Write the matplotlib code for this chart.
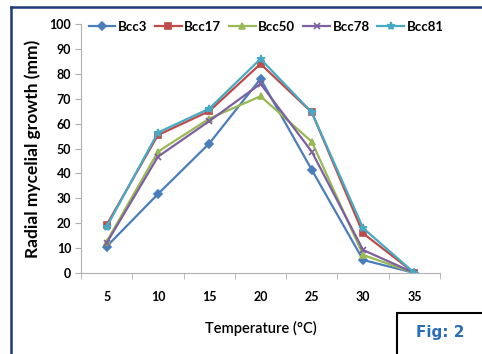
import matplotlib
matplotlib.use("Agg")
import matplotlib.pyplot as plt
from matplotlib.patches import Rectangle
from matplotlib.lines import Line2D

temps = ["5", "10", "15", "20", "25", "30", "35"]
bcc3 = [10.6, 31.7, 52, 78, 41.4, 5.2, 0]
bcc17 = [19.3, 55.4, 65, 84, 64.5, 15.9, 0]
bcc50 = [12.6, 48.7, 62, 71, 52.7, 7.2, 0]
bcc78 = [12.0, 46.7, 61, 76, 48.7, 9.2, 0]
bcc81 = [18.5, 56.4, 66, 86, 64.5, 18.0, 0]
yticks = [0, 10, 20, 30, 40, 50, 60, 70, 80, 90, 100]

plt.rcParams['font.family'] = ['Lato', 'DejaVu Sans']

fig = plt.figure(figsize=(4.82, 3.54), dpi=100)
ax = fig.add_axes([0.168, 0.229, 0.745, 0.703])

x = list(range(len(temps)))
series = [
    ("Bcc3", bcc3, "#4a7ebb", "D", 4),
    ("Bcc17", bcc17, "#be4b48", "s", 5),
    ("Bcc50", bcc50, "#98b954", "^", 5),
    ("Bcc78", bcc78, "#7d60a0", "x", 5),
    ("Bcc81", bcc81, "#46aac5", "*", 6),
]
for name, vals, col, mk, ms in series:
    ax.plot(x, vals, color=col, marker=mk, markersize=ms, linewidth=1.6,
            markeredgewidth=1.2, label=name)

ax.set_xlim(-0.5, len(temps) - 0.5)
ax.set_ylim(0, 100)
ax.set_xticks(x)
ax.set_xticklabels(temps, fontsize=9, fontweight='bold')
ax.set_xticks([i - 0.5 for i in range(len(temps) + 1)], minor=True)
ax.tick_params(axis='x', which='major', length=0, pad=13)
ax.tick_params(axis='x', which='minor', length=4, color='#b0b0b0')
ax.set_yticks(yticks)
ax.set_yticklabels([str(v) for v in yticks], fontsize=9, fontweight='bold')
ax.tick_params(axis='y', length=4, color='#b0b0b0', pad=3)

for s in ['top', 'right']:
    ax.spines[s].set_visible(False)
for s in ['left', 'bottom']:
    ax.spines[s].set_color('#b0b0b0')

ax.set_ylabel("Radial mycelial growth (mm)", fontsize=12.5, fontweight='bold', labelpad=6)
ax.set_xlabel("Temperature (°C)", fontsize=10.5, fontweight='semibold', labelpad=13)

ax.legend(loc='upper left', bbox_to_anchor=(0.0, 1.045), ncol=5, frameon=False,
          prop={'size': 9.5, 'weight': 'bold'}, handlelength=2.0,
          handletextpad=0.2, columnspacing=0.6, borderaxespad=0.2)

# outer frame (left and top edges)
fig.add_artist(Line2D([11 / 482, 11 / 482], [0, 1 - 7 / 354], color='#1f3a78', linewidth=1.8))
fig.add_artist(Line2D([11 / 482, 1], [1 - 7 / 354, 1 - 7 / 354], color='#1f3a78', linewidth=1.8))

# figure tag box
fig.add_artist(Rectangle((397 / 482, -0.05), 0.25, 1 - 313 / 354 + 0.05,
                         transform=fig.transFigure, fill=False, edgecolor='black', linewidth=1.5))
fig.text(440 / 482, 1 - 333 / 354, "Fig: 2", color='#2a6ebb', fontsize=11,
         fontweight='bold', ha='center', va='center', family=['DejaVu Sans'])

fig.savefig("out.png", dpi=100)
